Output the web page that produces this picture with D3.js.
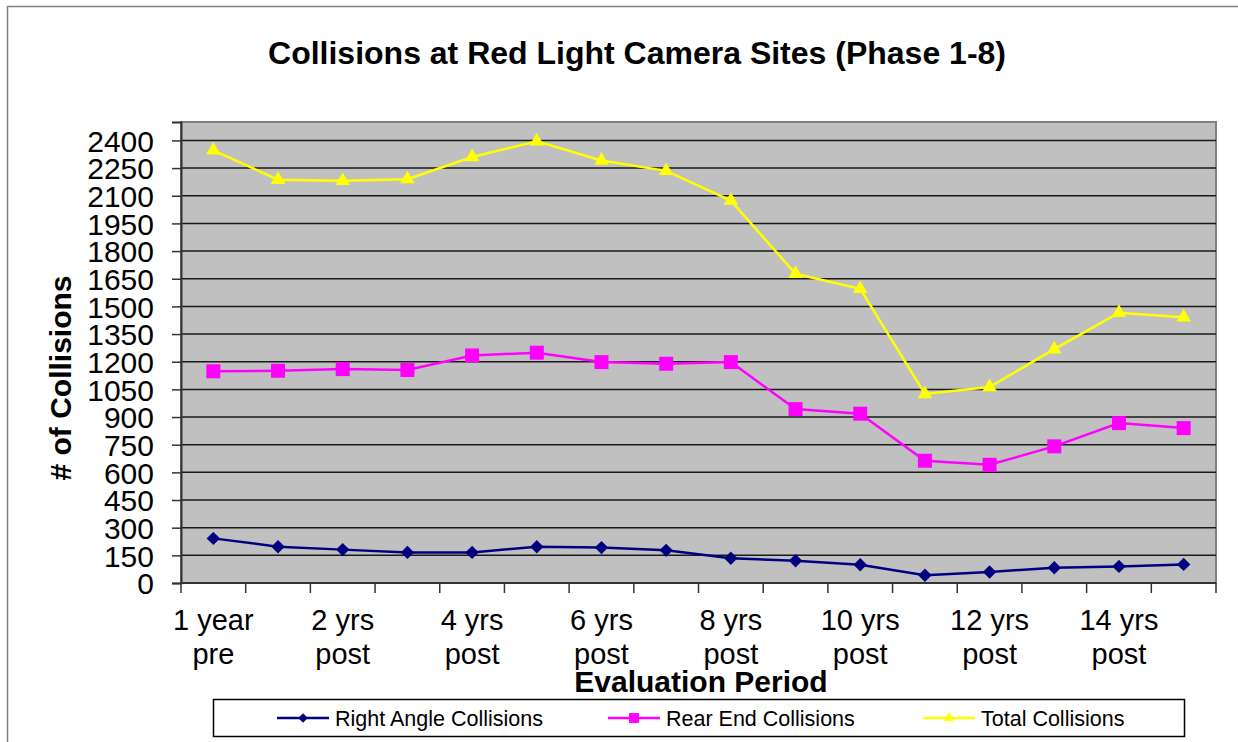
<!DOCTYPE html>
<html>
<head>
<meta charset="utf-8">
<script src="https://cdn.jsdelivr.net/npm/d3@7"></script>
<style>
  body { margin: 0; background: #fff; }
  text { font-family: "Liberation Sans", Arial, sans-serif; fill: #000; }
</style>
</head>
<body>
<svg id="chart" width="1238" height="742"></svg>
<script>
// evaluation periods (only every other one is labelled on the axis)
var periods = ["1 year pre", "1 yr post", "2 yrs post", "3 yrs post", "4 yrs post", "5 yrs post",
  "6 yrs post", "7 yrs post", "8 yrs post", "9 yrs post", "10 yrs post", "11 yrs post",
  "12 yrs post", "13 yrs post", "14 yrs post", "15 yrs post"];
var rightAngle = [242, 197, 181, 166, 166, 197, 192, 177, 134, 121, 99, 42, 60, 83, 90, 101];
var rearEnd = [1148, 1151, 1160, 1155, 1234, 1249, 1198, 1189, 1198, 943, 918, 663, 641, 741, 867, 840];
var total = [2346, 2187, 2181, 2190, 2310, 2396, 2291, 2235, 2074, 1677, 1595, 1025, 1063, 1268, 1466, 1441];
var yTicks = d3.range(0, 2401, 150);

var series = [
  {name: "Right Angle Collisions", values: rightAngle, color: "#000080", marker: "diamond"},
  {name: "Rear End Collisions", values: rearEnd, color: "#ff00ff", marker: "square"},
  {name: "Total Collisions", values: total, color: "#ffff00", marker: "triangle"}
];

var svg = d3.select("#chart");
var plot = {left: 181, right: 1216, top: 122, bottom: 583};

var x = d3.scaleBand().domain(periods).range([plot.left, plot.right]).padding(0);
var y = d3.scaleLinear().domain([0, 2500]).range([plot.bottom, plot.top]);

// scale 1 = plot markers, smaller for the legend
function markerPath(type, k) {
  k = k || 1;
  if (type == "diamond") return d3.symbol().type(d3.symbolSquare).size(90 * k)();
  if (type == "square") return d3.symbol().type(d3.symbolSquare).size(196 * k)();
  return d3.symbol().type(d3.symbolTriangle).size(92 * k)();
}
function markerRotate(type) {
  return type == "diamond" ? " rotate(45)" : "";
}

// outer chart border
svg.append("rect")
  .attr("x", 7.5).attr("y", 6.5)
  .attr("width", 1240).attr("height", 760)
  .attr("fill", "#fff").attr("stroke", "#808080").attr("stroke-width", 1.5);

// title
svg.append("text")
  .attr("x", 637).attr("y", 64)
  .attr("text-anchor", "middle")
  .style("font-size", "32px").style("font-weight", "bold")
  .text("Collisions at Red Light Camera Sites (Phase 1-8)");

// plot background
svg.append("rect")
  .attr("x", plot.left).attr("y", plot.top)
  .attr("width", plot.right - plot.left).attr("height", plot.bottom - plot.top)
  .attr("fill", "#c0c0c0").attr("stroke", "#808080").attr("stroke-width", 2);

// gridlines
svg.append("g")
  .selectAll("line")
  .data(yTicks.filter(function(d) { return d > 0; }))
  .enter()
  .append("line")
  .attr("x1", plot.left).attr("x2", plot.right)
  .attr("y1", function(d) { return y(d); })
  .attr("y2", function(d) { return y(d); })
  .attr("stroke", "#1a1a1a").attr("stroke-width", 1.5);

// y axis
var yAxis = svg.append("g")
  .attr("transform", "translate(" + plot.left + ",0)")
  .call(d3.axisLeft(y).tickValues(yTicks).tickSize(9).tickPadding(18).tickFormat(d3.format("d")));
yAxis.select(".domain").attr("stroke", "#333").attr("stroke-width", 2);
yAxis.selectAll(".tick line").attr("stroke", "#333").attr("stroke-width", 1.5);
yAxis.selectAll("text")
  .attr("dy", "0.36em")
  .style("font-size", "30px")
  .style("font-family", "'Liberation Sans', Arial, sans-serif");

// x axis: ticks on category boundaries
var xAxis = svg.append("g").attr("transform", "translate(0," + plot.bottom + ")");
xAxis.append("line")
  .attr("x1", plot.left).attr("x2", plot.right)
  .attr("stroke", "#333").attr("stroke-width", 2);
xAxis.selectAll(".xtick")
  .data(periods.concat(["end"]))
  .enter()
  .append("line")
  .attr("class", "xtick")
  .attr("x1", function(d, i) { return plot.left + i * x.bandwidth(); })
  .attr("x2", function(d, i) { return plot.left + i * x.bandwidth(); })
  .attr("y1", 0).attr("y2", 10)
  .attr("stroke", "#333").attr("stroke-width", 1.5);

var xLabels = xAxis.selectAll(".xlabel")
  .data(periods.filter(function(d, i) { return i % 2 == 0; }))
  .enter()
  .append("text")
  .attr("class", "xlabel")
  .attr("text-anchor", "middle")
  .style("font-size", "29px");
xLabels.each(function(d) {
  var cut = d.lastIndexOf(" ");
  var t = d3.select(this);
  var cx = x(d) + x.bandwidth() / 2;
  t.append("tspan").attr("x", cx).attr("y", 47).text(d.slice(0, cut));
  t.append("tspan").attr("x", cx).attr("y", 81).text(d.slice(cut + 1));
});

// axis titles
svg.append("text")
  .attr("x", 701).attr("y", 692)
  .attr("text-anchor", "middle")
  .style("font-size", "30px").style("font-weight", "bold")
  .text("Evaluation Period");
svg.append("text")
  .attr("transform", "translate(71,378) rotate(-90)")
  .attr("text-anchor", "middle")
  .style("font-size", "30px").style("font-weight", "bold")
  .text("# of Collisions");

// lines and markers
var line = d3.line()
  .x(function(d, i) { return x(periods[i]) + x.bandwidth() / 2; })
  .y(function(d) { return y(d); });

series.forEach(function(s) {
  svg.append("path")
    .datum(s.values)
    .attr("d", line)
    .attr("fill", "none")
    .attr("stroke", s.color)
    .attr("stroke-width", 2.5);
  svg.append("g")
    .selectAll("path")
    .data(s.values)
    .enter()
    .append("path")
    .attr("d", markerPath(s.marker))
    .attr("transform", function(d, i) {
      return "translate(" + (x(periods[i]) + x.bandwidth() / 2) + "," + y(d) + ")" + markerRotate(s.marker);
    })
    .attr("fill", s.color);
});

// legend
var legend = svg.append("g");
legend.append("rect")
  .attr("x", 213.5).attr("y", 699.5)
  .attr("width", 971).attr("height", 37)
  .attr("fill", "#fff").attr("stroke", "#000").attr("stroke-width", 1.5);
var legendX = [277, 608, 923];
var item = legend.selectAll(".item")
  .data(series)
  .enter()
  .append("g")
  .attr("class", "item")
  .attr("transform", function(d, i) { return "translate(" + legendX[i] + ",718)"; });
item.append("line")
  .attr("x1", 0).attr("x2", 52)
  .attr("stroke", function(d) { return d.color; })
  .attr("stroke-width", 2.5);
item.append("path")
  .attr("d", function(d) { return markerPath(d.marker, 0.5); })
  .attr("transform", function(d) { return "translate(26,0)" + markerRotate(d.marker); })
  .attr("fill", function(d) { return d.color; });
item.append("text")
  .attr("x", 58).attr("y", 7.5)
  .style("font-size", "21.5px")
  .text(function(d) { return d.name; });
</script>
</body>
</html>
